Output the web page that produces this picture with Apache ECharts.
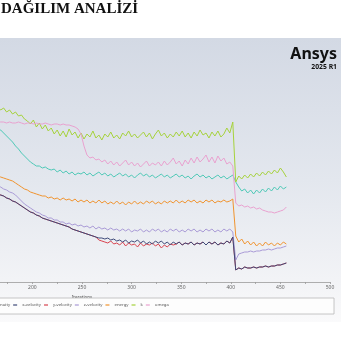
<!DOCTYPE html>
<html>
<head>
<meta charset="utf-8">
<script src="https://cdn.jsdelivr.net/npm/echarts@6/dist/echarts.min.js"></script>
<style>
  html, body { margin: 0; padding: 0; background: #ffffff; }
  #chart { width: 350px; height: 350px; }
</style>
</head>
<body>
<div id="chart"></div>
<script>
// Residual history (log10 of scaled residual), one sample every 3 iterations
const firstIteration = 159;
const iterationStep = 3;

const continuity = [
  -1.74,-1.78,-1.80,-1.84,-1.90,-1.96,-2.02,-2.08,-2.16,-2.22,
  -2.30,-2.36,-2.42,-2.48,-2.52,-2.56,-2.56,-2.60,-2.58,-2.62,
  -2.64,-2.62,-2.68,-2.64,-2.70,-2.66,-2.72,-2.68,-2.74,-2.70,
  -2.72,-2.68,-2.74,-2.70,-2.76,-2.72,-2.68,-2.74,-2.70,-2.76,
  -2.72,-2.78,-2.74,-2.70,-2.76,-2.72,-2.78,-2.74,-2.80,-2.74,
  -2.70,-2.76,-2.72,-2.78,-2.74,-2.80,-2.76,-2.72,-2.78,-2.74,
  -2.80,-2.76,-2.72,-2.78,-2.74,-2.80,-2.76,-2.82,-2.76,-2.72,
  -2.78,-2.74,-2.80,-2.76,-2.82,-2.78,-2.74,-2.80,-2.76,-2.82,
  -2.78,-2.74,-2.88,-2.98,-3.06,-3.02,-3.10,-3.04,-3.12,-3.04,
  -3.10,-3.02,-3.08,-3.00,-3.06,-2.98,-3.04,-2.96,-3.02,-2.98
];

const xVelocity = [
  -3.04,-3.08,-3.12,-3.14,-3.16,-3.20,-3.22,-3.26,-3.28,-3.32,
  -3.36,-3.40,-3.44,-3.48,-3.50,-3.54,-3.56,-3.60,-3.62,-3.64,
  -3.66,-3.68,-3.70,-3.72,-3.74,-3.76,-3.78,-3.82,-3.84,-3.86,
  -3.88,-3.90,-3.92,-3.94,-3.96,-3.98,-4.00,-4.00,-4.02,-4.00,
  -4.04,-4.02,-4.06,-4.04,-4.08,-4.04,-4.10,-4.06,-4.08,-4.04,
  -4.10,-4.06,-4.12,-4.08,-4.12,-4.06,-4.10,-4.06,-4.12,-4.08,
  -4.14,-4.08,-4.12,-4.08,-4.14,-4.10,-4.12,-4.08,-4.14,-4.10,
  -4.12,-4.08,-4.14,-4.08,-4.12,-4.08,-4.14,-4.10,-4.12,-4.06,
  -4.10,-3.98,-4.64,-4.60,-4.62,-4.58,-4.60,-4.60,-4.58,-4.60,
  -4.58,-4.58,-4.56,-4.58,-4.56,-4.56,-4.54,-4.54,-4.52,-4.50
];

const yVelocity = [
  -3.04,-3.08,-3.12,-3.14,-3.16,-3.20,-3.22,-3.26,-3.28,-3.32,
  -3.36,-3.40,-3.44,-3.48,-3.50,-3.54,-3.56,-3.60,-3.62,-3.64,
  -3.66,-3.68,-3.70,-3.72,-3.74,-3.76,-3.78,-3.82,-3.84,-3.86,
  -3.88,-3.90,-3.92,-3.94,-3.96,-3.98,-4.04,-4.06,-4.08,-4.10,
  -4.06,-4.12,-4.10,-4.14,-4.08,-4.16,-4.10,-4.14,-4.12,-4.18,
  -4.10,-4.16,-4.12,-4.14,-4.10,-4.16,-4.12,-4.20,-4.14,-4.18,
  -4.12,-4.14,-4.12,-4.08,-4.14,-4.10,-4.12,-4.08,-4.14,-4.10,
  -4.12,-4.08,-4.14,-4.08,-4.12,-4.08,-4.14,-4.10,-4.12,-4.06,
  -4.10,-3.98,-4.64,-4.60,-4.62,-4.58,-4.60,-4.60,-4.58,-4.60,
  -4.58,-4.58,-4.56,-4.58,-4.56,-4.56,-4.54,-4.54,-4.52,-4.50
];

const zVelocity = [
  -2.90,-2.94,-2.96,-2.98,-3.02,-3.04,-3.08,-3.10,-3.14,-3.20,
  -3.26,-3.32,-3.36,-3.40,-3.44,-3.48,-3.50,-3.54,-3.56,-3.60,
  -3.60,-3.64,-3.64,-3.68,-3.68,-3.72,-3.70,-3.74,-3.72,-3.76,
  -3.74,-3.78,-3.76,-3.80,-3.76,-3.82,-3.78,-3.82,-3.80,-3.84,
  -3.80,-3.84,-3.82,-3.86,-3.82,-3.86,-3.82,-3.88,-3.84,-3.86,
  -3.82,-3.88,-3.84,-3.88,-3.82,-3.86,-3.82,-3.88,-3.84,-3.88,
  -3.82,-3.86,-3.82,-3.88,-3.84,-3.88,-3.82,-3.86,-3.82,-3.88,
  -3.84,-3.88,-3.82,-3.86,-3.82,-3.88,-3.84,-3.88,-3.82,-3.86,
  -3.82,-3.88,-4.44,-4.32,-4.30,-4.28,-4.28,-4.26,-4.28,-4.26,
  -4.26,-4.24,-4.24,-4.22,-4.24,-4.22,-4.20,-4.20,-4.18,-4.16
];

const energy = [
  -2.72,-2.74,-2.76,-2.78,-2.80,-2.82,-2.84,-2.86,-2.90,-2.94,
  -2.98,-3.02,-3.04,-3.08,-3.10,-3.12,-3.14,-3.16,-3.16,-3.20,
  -3.18,-3.22,-3.20,-3.24,-3.20,-3.24,-3.22,-3.26,-3.22,-3.28,
  -3.24,-3.28,-3.24,-3.30,-3.26,-3.30,-3.24,-3.30,-3.26,-3.32,
  -3.28,-3.32,-3.26,-3.32,-3.28,-3.34,-3.28,-3.32,-3.26,-3.32,
  -3.28,-3.32,-3.26,-3.30,-3.26,-3.32,-3.28,-3.32,-3.26,-3.30,
  -3.26,-3.30,-3.24,-3.30,-3.26,-3.30,-3.24,-3.28,-3.24,-3.30,
  -3.26,-3.30,-3.24,-3.28,-3.24,-3.30,-3.26,-3.28,-3.24,-3.28,
  -3.26,-3.22,-3.96,-4.08,-4.02,-4.12,-4.06,-4.14,-4.08,-4.16,
  -4.10,-4.16,-4.08,-4.14,-4.10,-4.16,-4.10,-4.14,-4.08,-4.12
];

const kResidual = [
  -1.36,-1.42,-1.38,-1.44,-1.40,-1.48,-1.44,-1.52,-1.48,-1.56,
  -1.54,-1.62,-1.66,-1.72,-1.64,-1.78,-1.70,-1.82,-1.74,-1.86,
  -1.80,-1.92,-1.84,-1.96,-1.86,-1.98,-1.82,-1.94,-1.88,-2.00,
  -1.90,-2.02,-1.92,-1.98,-1.86,-2.00,-1.94,-2.04,-1.92,-1.98,
  -1.88,-2.00,-1.94,-2.02,-1.90,-1.96,-1.86,-1.98,-1.92,-2.00,
  -1.94,-1.88,-1.98,-1.90,-2.02,-1.92,-1.84,-1.96,-1.90,-2.00,
  -1.92,-1.98,-1.88,-1.96,-1.86,-1.98,-1.90,-2.00,-1.88,-1.96,
  -1.84,-1.94,-1.90,-2.00,-1.88,-1.96,-1.86,-1.98,-1.92,-1.80,
  -1.90,-1.68,-2.88,-2.76,-2.82,-2.74,-2.80,-2.72,-2.78,-2.70,
  -2.76,-2.68,-2.74,-2.66,-2.72,-2.64,-2.70,-2.60,-2.68,-2.78
];

const omega = [
  -1.66,-1.66,-1.68,-1.68,-1.68,-1.70,-1.68,-1.70,-1.70,-1.68,
  -1.70,-1.72,-1.70,-1.70,-1.72,-1.70,-1.72,-1.72,-1.70,-1.72,
  -1.74,-1.72,-1.72,-1.74,-1.72,-1.74,-1.74,-1.76,-1.78,-1.82,
  -1.92,-2.16,-2.34,-2.40,-2.38,-2.44,-2.42,-2.48,-2.44,-2.52,
  -2.46,-2.54,-2.48,-2.56,-2.50,-2.44,-2.54,-2.48,-2.56,-2.50,
  -2.58,-2.52,-2.46,-2.56,-2.50,-2.54,-2.48,-2.56,-2.46,-2.54,
  -2.48,-2.40,-2.52,-2.46,-2.56,-2.44,-2.52,-2.40,-2.50,-2.38,
  -2.48,-2.42,-2.34,-2.48,-2.38,-2.50,-2.36,-2.46,-2.40,-2.52,
  -2.48,-2.56,-3.30,-3.36,-3.34,-3.38,-3.36,-3.40,-3.38,-3.42,
  -3.40,-3.44,-3.46,-3.48,-3.48,-3.50,-3.48,-3.46,-3.44,-3.38
];

const seriesNames = ['continuity', 'x-velocity', 'y-velocity', 'z-velocity', 'energy', 'k', 'omega'];
const seriesValues = [continuity, xVelocity, yVelocity, zVelocity, energy, kResidual, omega];
const seriesColors = ['#4ec8b6', '#3e4a78', '#d8434f', '#a99ad6', '#f0932e', '#a6d23c', '#e9a1cf'];

function toPairs(values) {
  return values.map((v, i) => [firstIteration + i * iterationStep, v]);
}

const chart = echarts.init(document.getElementById('chart'), null, { renderer: 'canvas' });

const option = {
  animation: false,
  backgroundColor: '#ffffff',
  title: {
    text: 'DAĞILIM ANALİZİ',
    left: 1,
    top: 2,
    padding: 0,
    textStyle: {
      fontFamily: 'Liberation Serif',
      fontWeight: 'bold',
      fontSize: 15,
      color: '#111111'
    }
  },
  graphic: {
    elements: [
      {
        type: 'rect',
        z: -10,
        silent: true,
        shape: { x: -5, y: 38, width: 346, height: 284 },
        style: {
          fill: new echarts.graphic.LinearGradient(0, 0, 0, 1, [
            { offset: 0, color: '#d3d9e4' },
            { offset: 0.5, color: '#e3e7ee' },
            { offset: 0.85, color: '#f2f3f6' },
            { offset: 1, color: '#fafafb' }
          ])
        }
      },
      {
        type: 'rect',
        z: 1,
        silent: true,
        shape: { x: -5, y: 298, width: 339, height: 16 },
        style: { fill: '#fdfdfd', stroke: '#b8b8b8', lineWidth: 0.8 }
      },
      {
        type: 'text',
        right: 13,
        top: 46,
        z: 5,
        style: {
          text: 'Ansys',
          fontFamily: 'Noto Sans',
          fontWeight: 'bold',
          fontSize: 16,
          fill: '#111111'
        }
      },
      {
        type: 'text',
        right: 13,
        top: 64,
        z: 5,
        style: {
          text: '2025 R1',
          fontFamily: 'Noto Sans',
          fontWeight: 'bold',
          fontSize: 6.8,
          fill: '#111111'
        }
      }
    ]
  },
  legend: {
    data: seriesNames,
    left: -19,
    top: 303,
    padding: 0,
    icon: 'rect',
    itemWidth: 4,
    itemHeight: 1.2,
    itemGap: 3,
    textStyle: { fontFamily: 'Noto Sans', fontSize: 4.3, color: '#555555' }
  },
  grid: {
    left: -166,
    right: 20,
    top: 38,
    bottom: 68,
    containLabel: false,
    outerBoundsMode: 'none'
  },
  xAxis: {
    type: 'value',
    min: 0,
    max: 500,
    interval: 50,
    name: 'Iterations',
    nameLocation: 'middle',
    nameGap: 11,
    nameTextStyle: { fontFamily: 'Noto Sans', fontSize: 4.5, color: '#555555' },
    axisLine: { onZero: false, lineStyle: { color: '#9a9a9a', width: 0.8 } },
    axisTick: { show: true, length: 2, lineStyle: { color: '#9a9a9a', width: 0.8 } },
    minorTick: { show: true, splitNumber: 2, length: 2, lineStyle: { color: '#9a9a9a', width: 0.8 } },
    axisLabel: { fontFamily: 'Noto Sans', fontSize: 5, color: '#666666', margin: 3 },
    splitLine: { show: false }
  },
  yAxis: {
    type: 'value',
    min: -4.88,
    max: 0,
    show: false
  },
  series: seriesNames.map((name, i) => ({
    name: name,
    type: 'line',
    data: toPairs(seriesValues[i]),
    showSymbol: false,
    symbol: 'none',
    z: name === 'x-velocity' ? 3 : 2,
    lineStyle: { width: 1, color: seriesColors[i] },
    itemStyle: { color: seriesColors[i] }
  }))
};

chart.setOption(option);
</script>
</body>
</html>
